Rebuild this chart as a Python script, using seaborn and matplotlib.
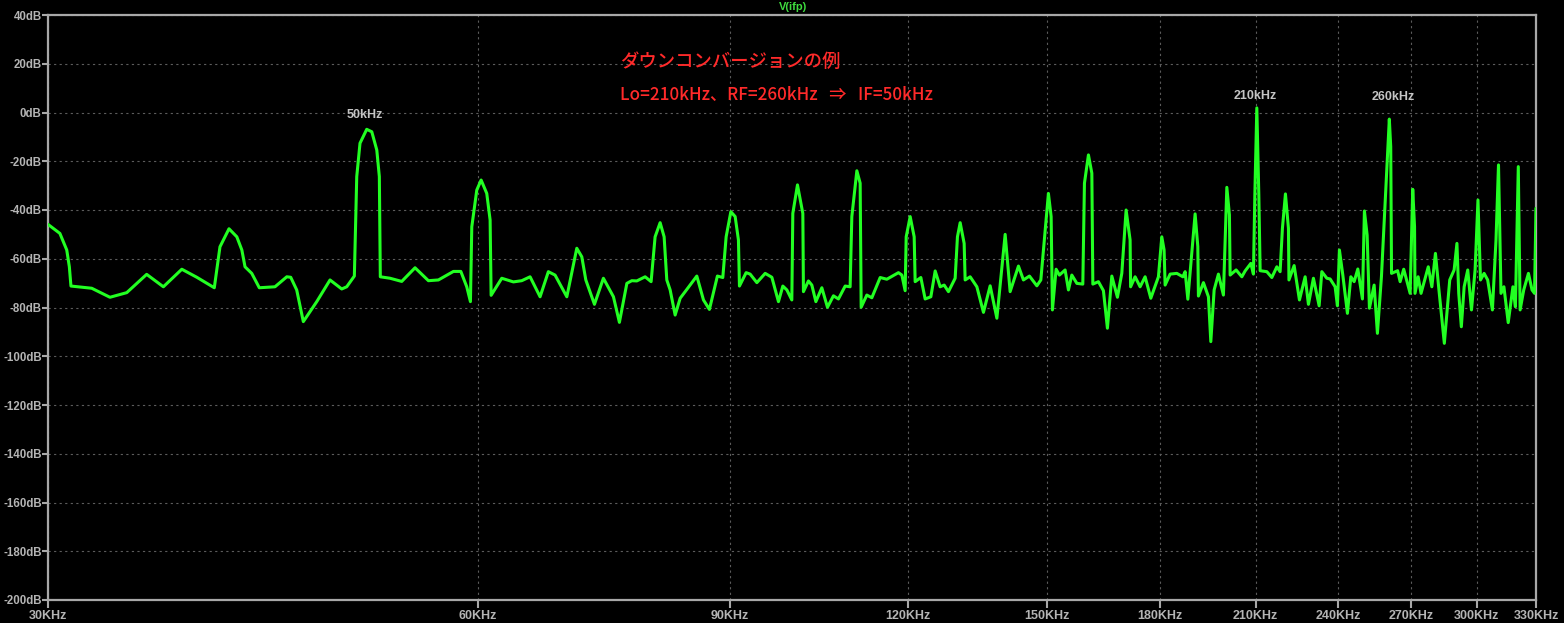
import matplotlib
matplotlib.use("Agg")
import matplotlib.pyplot as plt
import numpy as np
import pandas as pd
import seaborn as sns
from matplotlib.ticker import FixedLocator, NullLocator

# ---------------- data ----------------
freq_khz = [
    30.0, 30.58, 30.92, 31.05, 31.13, 32.19, 33.15, 34.06, 35.17, 36.13,
    37.22, 38.13, 39.22, 39.58, 40.16, 40.67, 41.0, 41.21, 41.66, 42.17,
    43.25, 44.08, 44.36, 44.79, 45.27, 46.26, 47.26, 48.16, 48.55, 49.15,
    49.34, 49.6, 50.14, 50.55, 50.96, 51.17, 51.25, 52.06, 53.05, 54.2,
    55.38, 56.28, 57.66, 58.35, 58.91, 59.26, 59.39, 59.87, 60.29, 60.84,
    61.17, 61.27, 62.33, 63.51, 64.37, 65.24, 66.3, 67.19, 67.92, 69.22,
    70.34, 70.91, 71.37, 72.37, 73.42, 74.62, 75.34, 76.25, 76.86, 77.48,
    78.53, 79.29, 79.8, 80.45,
    80.97, 81.32, 81.76, 82.42, 83.09, 83.76, 85.35, 86.27, 87.1, 88.23,
    89.0, 89.48, 90.16, 90.79, 91.27, 91.42, 92.41, 93.01, 94.02, 95.29,
    96.32, 97.35, 98.04, 98.68, 99.47, 99.63, 100.38, 101.25, 101.35, 102.17,
    102.73, 103.4, 104.4, 105.35, 106.37, 107.23, 108.4, 109.27, 109.57, 110.46,
    111.05, 111.23, 112.25, 113.16, 114.69, 115.93, 118.12, 118.77, 119.4, 119.6,
    120.37, 121.15, 121.34, 122.46, 123.31, 124.45, 125.32, 126.33, 127.15, 128.03,
    129.42, 129.9, 130.47,
    131.31, 131.52, 132.59, 134.03, 135.46, 136.93, 138.42, 140.28, 141.41, 143.32,
    144.47, 145.88, 147.63, 148.58, 150.41, 151.07, 151.38, 152.29, 153.1, 154.51,
    155.34, 156.19, 157.46, 158.98, 159.4, 160.43, 161.31, 161.57, 163.03, 164.35,
    165.41, 166.59, 168.1, 169.29, 170.47, 171.57, 171.71, 172.96, 174.36, 175.77,
    177.39, 179.58, 180.56, 181.23, 181.53, 183.0, 184.99, 186.79, 187.48, 188.3,
    190.52, 191.35, 191.54, 193.09, 194.65, 195.4, 196.45, 197.81, 199.41, 200.51,
    201.35, 201.58, 203.54,
    205.42, 206.51, 208.42, 209.29, 209.77, 210.44, 211.12, 211.57, 213.86, 215.59,
    217.34, 218.49, 219.3, 220.37, 221.44, 221.62, 223.48, 225.4, 227.48, 228.69,
    230.54, 232.67, 233.68, 235.57, 236.83, 238.74, 239.63, 240.4, 241.72, 243.52,
    244.86, 246.17, 247.64, 249.48, 250.28, 251.38, 252.31, 254.23, 255.58,
    257.24, 259.49, 260.53, 261.12, 261.46, 264.04, 265.11, 266.65, 269.42, 270.55,
    271.34, 271.55, 272.92, 274.19, 277.41, 279.01, 280.63, 282.22, 284.68, 287.17,
    289.21, 290.52, 291.37, 292.59, 293.92, 295.63, 297.41, 299.15, 300.54, 301.77,
    303.52, 305.28, 307.61, 309.4, 310.65, 311.9, 313.37, 315.55, 317.95, 319.23,
    320.72, 321.66, 323.54, 326.0, 327.9, 329.22, 330.0,
]

level_db = [
    -45.9, -49.6, -56.4, -63.3, -71.2, -72.1, -75.8, -73.9, -66.4, -71.5,
    -64.3, -67.6, -71.9, -55.1, -47.7, -51.0, -56.4, -63.3, -66.0, -71.9,
    -71.5, -67.4, -67.6, -72.8, -85.8, -77.6, -68.7, -72.4, -71.5, -67.1,
    -26.3, -12.6, -6.9, -7.9, -15.4, -26.3, -67.4, -68.0, -69.3, -63.7,
    -69.0, -68.7, -65.2, -65.2, -71.5, -77.6, -46.9, -31.8, -27.7, -33.2,
    -44.1, -75.0, -68.0, -69.5, -69.0, -67.4, -75.6, -65.3, -66.7, -75.6,
    -55.7, -59.2, -68.7, -78.7, -68.0, -75.6, -86.1, -70.1, -69.0, -69.1,
    -67.4, -69.4, -51.0, -45.2,
    -51.0, -68.7, -72.8, -83.1, -76.2, -73.5, -67.1, -76.9, -80.8, -67.1,
    -67.7, -51.0, -40.7, -42.7, -52.3, -71.2, -65.7, -66.3, -69.8, -66.0,
    -67.6, -77.6, -71.2, -72.8, -76.9, -41.4, -29.7, -41.4, -73.5, -69.1,
    -70.8, -77.6, -71.9, -79.9, -75.2, -76.5, -71.2, -71.5, -42.7, -23.9,
    -29.0, -79.9, -74.9, -76.0, -67.7, -68.4, -65.7, -66.7, -73.1, -51.0,
    -42.7, -51.0, -69.4, -67.7, -76.5, -75.6, -65.0, -71.5, -70.8, -73.5,
    -68.0, -51.0, -45.2,
    -53.7, -68.7, -67.4, -71.5, -82.0, -71.1, -84.4, -50.0, -73.5, -63.0,
    -68.7, -67.1, -71.1, -68.7, -33.2, -42.7, -81.0, -64.3, -66.7, -64.6,
    -72.8, -66.7, -70.1, -70.4, -29.0, -17.4, -24.9, -70.4, -69.4, -73.1,
    -88.5, -67.1, -75.8, -66.0, -40.0, -52.3, -71.5, -67.4, -71.5, -67.4,
    -76.2, -67.4, -51.0, -56.4, -70.8, -66.3, -66.0, -67.4, -65.3, -76.6,
    -41.6, -55.0, -75.3, -69.8, -75.6, -94.0, -72.8, -66.3, -74.9, -30.7,
    -42.0, -66.7, -64.6,
    -67.4, -65.0, -61.9, -66.3, -33.8, 1.9, -33.8, -64.9, -65.3, -67.7,
    -63.3, -65.3, -47.5, -33.4, -47.5, -68.7, -62.8, -76.9, -67.4, -78.7,
    -68.0, -79.3, -65.3, -68.0, -68.3, -71.5, -79.3, -56.4, -66.7, -82.4,
    -67.4, -69.4, -64.2, -76.5, -40.4, -50.3, -80.3, -70.8, -90.6,
    -67.4, -22.9, -2.7, -14.0, -66.0, -64.9, -69.4, -64.3, -74.2, -31.5,
    -46.9, -74.2, -67.4, -74.2, -63.3, -71.5, -57.8, -72.8, -94.7, -68.7,
    -64.6, -53.7, -74.2, -87.9, -71.5, -64.6, -81.0, -64.6, -35.9, -68.7,
    -66.0, -68.7, -81.0, -52.3, -21.5, -74.2, -71.5, -86.2, -71.5, -79.7,
    -22.2, -81.0, -72.8, -66.0, -72.8, -74.2, -39.3,
]

x_ticks_khz = [30, 60, 90, 120, 150, 180, 210, 240, 270, 300, 330]
x_tick_labels = [f"{v}KHz" for v in x_ticks_khz]
y_ticks_db = list(range(-200, 41, 20))
y_tick_labels = [f"{v}dB" for v in y_ticks_db]

peak_labels = ["50kHz", "210kHz", "260kHz"]
peak_label_freq = [50, 210, 262]
peak_label_db = [-1.0, 6.8, 6.4]

title_text = "V(ifp)"
note_line1 = "ダウンコンバージョンの例"
note_line2 = "Lo=210kHz、RF=260kHz   ⇒   IF=50kHz"

# ---------------- styling ----------------
sns.set_theme(style="dark")
plt.rcParams["font.family"] = ["Liberation Sans", "DejaVu Sans"]
plt.rcParams["axes.facecolor"] = "black"
plt.rcParams["figure.facecolor"] = "black"

W, H = 1564, 623
fig = plt.figure(figsize=(W / 100, H / 100), dpi=100)
ax = fig.add_axes([48 / W, (H - 600) / H, 1488 / W, 585 / H])
ax.set_facecolor("black")

df = pd.DataFrame({"freq": freq_khz, "db": level_db})
sns.lineplot(data=df, x="freq", y="db", ax=ax, color="#22ff22",
             linewidth=2.2, estimator=None, sort=False, zorder=3)

ax.set_xscale("log")
ax.set_xlim(30, 330)
ax.set_ylim(-200, 40)
ax.xaxis.set_major_locator(FixedLocator(x_ticks_khz))
ax.xaxis.set_minor_locator(NullLocator())
ax.set_xticklabels(x_tick_labels)
ax.yaxis.set_major_locator(FixedLocator(y_ticks_db))
ax.set_yticklabels(y_tick_labels)
ax.set_xlabel("")
ax.set_ylabel("")

spine_col = "#a8a8a8"
for s in ax.spines.values():
    s.set_visible(True)
    s.set_color(spine_col)
    s.set_linewidth(1.6)

ax.tick_params(axis="both", which="major", direction="out",
               width=1.5, color=spine_col, labelcolor="#b4b4b4", pad=1)
ax.tick_params(axis="x", bottom=True, top=False, length=6, labelsize=9)
ax.tick_params(axis="y", left=True, right=False, length=4, labelsize=8.3, pad=0.5)
for lab in ax.get_xticklabels() + ax.get_yticklabels():
    lab.set_fontweight("bold")

ax.grid(True, which="major", color="#5c5c5c", linestyle=(0, (2, 3)),
        linewidth=0.8, zorder=0)

for lab, fx, fy in zip(peak_labels, peak_label_freq, peak_label_db):
    ax.text(fx, fy, lab, color="#c4c4c4", fontsize=9, fontweight="bold",
            ha="center", va="center", zorder=4)

jp = ["Noto Sans CJK JP", "DejaVu Sans"]
ax.text((620 - 48) / 1488, (600 - 62) / 585, note_line1, transform=ax.transAxes,
        color="#ff2a2a", fontsize=13.2, family=jp, fontweight="medium",
        ha="left", va="center")
ax.text((620 - 48) / 1488, (600 - 95) / 585, note_line2, transform=ax.transAxes,
        color="#ff2a2a", fontsize=12.3, family=jp, fontweight="medium",
        ha="left", va="center")

fig.text(793 / W, 1 - 6.5 / H, title_text, color="#3fdc3f", fontsize=8,
         fontweight="bold", ha="center", va="center")

fig.savefig("out.png", dpi=100, facecolor="black")
